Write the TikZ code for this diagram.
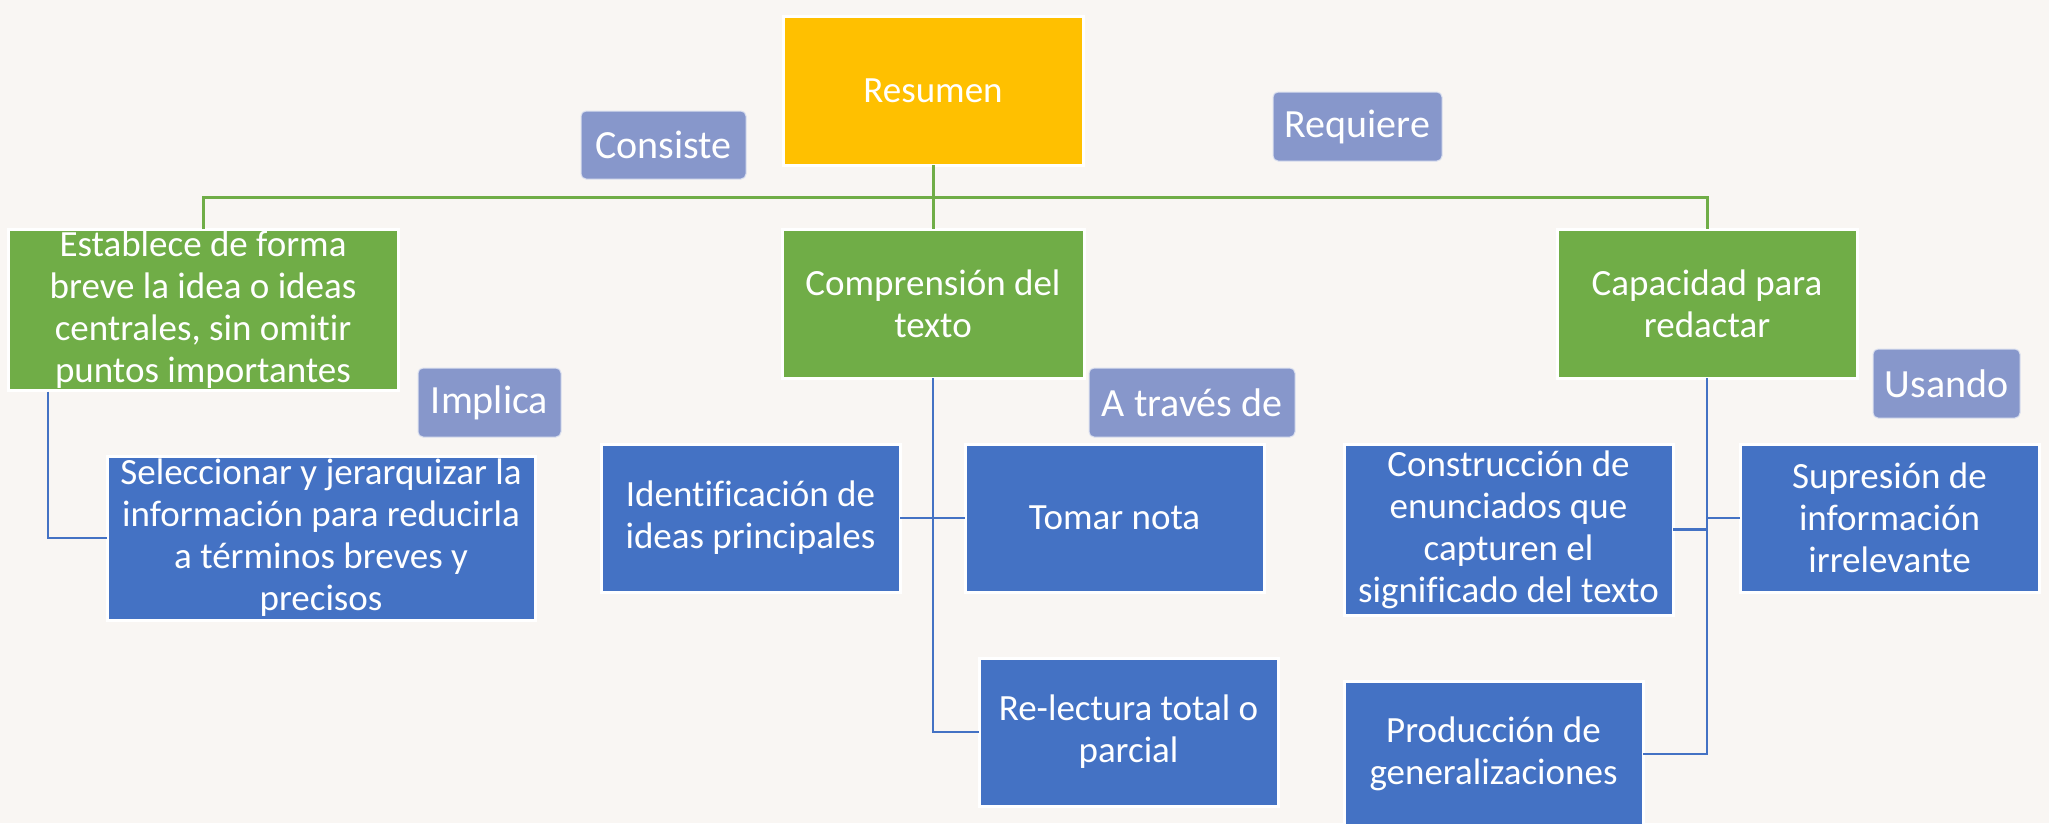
\documentclass[tikz,border=0pt]{standalone}
\usepackage{fontspec}
\setmainfont[Ligatures={NoCommon}]{Carlito}
\definecolor{bgc}{HTML}{F9F6F3}
\definecolor{orng}{HTML}{FFC000}
\definecolor{grn}{HTML}{70AD47}
\definecolor{blu}{HTML}{4472C4}
\definecolor{lav}{HTML}{8797CB}
\tikzset{
  base/.style={inner sep=0pt, outer sep=0pt, text=white, align=center,
    font=\fontsize{37}{42}\selectfont},
  orangebox/.style={base, fill=orng, draw=white, line width=3pt},
  greenbox/.style={base, fill=grn, draw=white, line width=3pt},
  bluebox/.style={base, fill=blu, draw=white, line width=3pt},
  labelbox/.style={base, fill=lav, draw=white!70!lav, line width=1pt, rounded corners=5pt,
    font=\fontsize{40}{46}\selectfont},
  gline/.style={draw=grn, line width=3pt},
  bline/.style={draw=blu, line width=2.5pt},
}
\begin{document}
\begin{tikzpicture}[x=1pt,y=-1pt]
\fill[bgc] (0,0) rectangle (2049,823);
\useasboundingbox (0,0) rectangle (2049,823);

% top-level
\node[orangebox, minimum width=300pt, minimum height=149pt] (res) at (933,90.5) {Resumen};
\node[greenbox, minimum width=390pt, minimum height=161pt] (est) at (203,309.5)
  {Establece de forma\\breve la idea o ideas\\centrales, sin omitir\\puntos importantes};
\node[greenbox, minimum width=302pt, minimum height=149pt] (com) at (933,303.5)
  {Comprensión del\\texto};
\node[greenbox, minimum width=300pt, minimum height=149pt] (cap) at (1707,303.5)
  {Capacidad para\\redactar};

% labels
\node[labelbox, minimum width=165pt, minimum height=68pt] (consiste) at (663.5,145) {Consiste};
\node[labelbox, minimum width=169pt, minimum height=69pt] (requiere) at (1357.5,126.5) {Requiere};
\node[labelbox, minimum width=143pt, minimum height=69pt] (implica) at (489.5,402.5) {Implica};
\node[labelbox, minimum width=206pt, minimum height=69pt] (atraves) at (1192,402.5) {A través de};
\node[labelbox, minimum width=147pt, minimum height=69pt] (usando) at (1946.5,383.5) {Usando};

% blue boxes
\node[bluebox, minimum width=428pt, minimum height=164pt] (sel) at (321,538)
  {Seleccionar y jerarquizar la\\información para reducirla\\a términos breves y\\precisos};
\node[bluebox, minimum width=299pt, minimum height=148pt] (ide) at (750.5,518)
  {Identificación de\\ideas principales};
\node[bluebox, minimum width=299pt, minimum height=148pt] (tom) at (1114.5,518) {Tomar nota};
\node[bluebox, minimum width=299pt, minimum height=148pt] (rel) at (1128.5,732)
  {Re-lectura total o\\parcial};
\node[bluebox, minimum width=329pt, minimum height=171pt] (con) at (1508.5,529.5)
  {Construcción de\\enunciados que\\capturen el\\significado del texto};
\node[bluebox, minimum width=299pt, minimum height=148pt] (sup) at (1889.5,518)
  {Supresión de\\información\\irrelevante};
\node[bluebox, minimum width=299pt, minimum height=146pt] (pro) at (1493.5,754)
  {Producción de\\generalizaciones};

% green connectors
\coordinate (bar) at (933,197);
\draw[gline] (res.south) -- (bar);
\draw[gline] (est.north) |- (bar) -| (cap.north);
\draw[gline] (bar) -- (com.north);

% blue connectors
\coordinate (lft) at (48,391.5);
\draw[bline] (lft) |- (sel.west);
\draw[bline] (com.south) |- (rel.west);
\draw[bline] (ide.east) -- (tom.west);
\draw[bline] (cap.south) |- (pro.east);
\draw[bline] (con.east) -- (con.east -| cap.south);
\draw[bline] (sup.west) -- (sup.west -| cap.south);
\end{tikzpicture}
\end{document}
